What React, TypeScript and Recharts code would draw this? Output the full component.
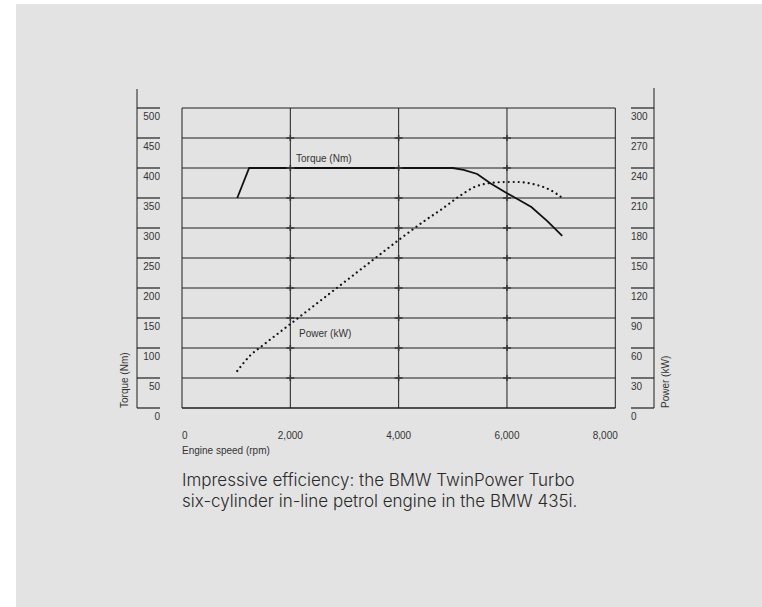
import React from "react";
import { ComposedChart, Line, XAxis, YAxis, CartesianGrid, Scatter } from "recharts";

// axis ticks
const rpmTicks = [0, 2000, 4000, 6000, 8000];
const torqueTicks = [0, 50, 100, 150, 200, 250, 300, 350, 400, 450, 500];
const powerTicks = [0, 30, 60, 90, 120, 150, 180, 210, 240, 270, 300];

// torque curve (Nm)
const torqueRpm = [1020, 1240, 5000, 5200, 5450, 5700, 6000, 6200, 6450, 6750, 7020];
const torqueNm = [350, 400, 400, 397, 390, 374, 358, 348, 335, 311, 287];

// power curve (kW)
const powerRpm = [1020, 1250, 1500, 2000, 2500, 3000, 3500, 4000, 4500, 4800, 5100, 5400, 5700, 6000, 6200, 6550, 6800, 7050];
const powerKw = [37, 52, 63, 84, 105, 126, 147, 168, 188, 199, 211, 221, 225, 226, 226, 223, 218, 209];

// little "+" marks on the inner grid lines
const crossRpm = [2000, 4000, 6000];
const crossNm = [50, 100, 150, 200, 250, 300, 350, 400, 450];

const INK = "#1e1e1e";
const TEXT = "#333333";
const FONT = "'Liberation Sans', Arial, sans-serif";

const torqueData = torqueRpm.map((rpm, i) => ({ rpm, nm: torqueNm[i] }));
const powerData = powerRpm.map((rpm, i) => ({ rpm, kw: powerKw[i] }));
const crossData = crossRpm.flatMap((rpm) => crossNm.map((nm) => ({ rpm, nm })));

function LeftTick(props: any) {
  const { y, payload } = props;
  return (
    <g>
      {payload.value === 500 && <line x1={137} x2={137} y1={y - 19} y2={y + 300} stroke={INK} strokeWidth={1} />}
      <line x1={137} x2={160} y1={y} y2={y} stroke={INK} strokeWidth={1.2} />
      <text x={160} y={y + 11.5} textAnchor="end" fontSize={10} fontFamily={FONT} fill={TEXT}>
        {payload.value}
      </text>
    </g>
  );
}

function RightTick(props: any) {
  const { y, payload } = props;
  return (
    <g>
      {payload.value === 300 && <line x1={654} x2={654} y1={y - 20} y2={y + 300} stroke={INK} strokeWidth={1} />}
      <line x1={631} x2={654} y1={y} y2={y} stroke={INK} strokeWidth={1.2} />
      <text x={631} y={y + 11.5} textAnchor="start" fontSize={10} fontFamily={FONT} fill={TEXT}>
        {payload.value}
      </text>
    </g>
  );
}

function BottomTick(props: any) {
  const { x, payload } = props;
  const v = payload.value;
  const anchor = v === 0 ? "start" : v === 8000 ? "end" : "middle";
  const dx = v === 8000 ? 2.5 : 0;
  return (
    <text x={x + dx} y={438.5} textAnchor={anchor} fontSize={10} fontFamily={FONT} fill={TEXT}>
      {v.toLocaleString("en-US")}
    </text>
  );
}

function Cross(props: any) {
  const { cx, cy } = props;
  return (
    <g stroke="#3a3a3a" strokeWidth={1.6}>
      <line x1={cx - 4} x2={cx + 4} y1={cy} y2={cy} />
      <line x1={cx} x2={cx} y1={cy - 3} y2={cy + 3} />
    </g>
  );
}

const label: React.CSSProperties = {
  position: "absolute",
  fontFamily: FONT,
  fontSize: 10,
  lineHeight: "12px",
  color: TEXT,
  whiteSpace: "nowrap",
};

export default function App() {
  return (
    <div style={{ position: "absolute", left: 0, top: 0, width: 762, height: 607, background: "#fff", overflow: "hidden" }}>
      <div style={{ position: "absolute", left: 16, top: 4, width: 746, height: 603, background: "#e3e3e3" }} />
      <div style={{ position: "absolute", left: 0, top: 0 }}>
        <ComposedChart width={762} height={607} margin={{ top: 108, right: 107.7, bottom: 150, left: 137 }}>
          <CartesianGrid xAxisId="rpm" yAxisId="torque" stroke={INK} strokeWidth={1} fill="none" />
          {/* spacer axis: pushes the visible rpm axis below the frame */}
          <XAxis
            xAxisId="spacer"
            type="number"
            domain={[0, 8000]}
            height={19}
            tick={false}
            axisLine={false}
            tickLine={false}
          />
          <XAxis
            xAxisId="rpm"
            type="number"
            dataKey="rpm"
            domain={[0, 8000]}
            ticks={rpmTicks}
            height={30}
            axisLine={{ stroke: INK, strokeWidth: 1 }}
            tickLine={false}
            tick={<BottomTick />}
            interval={0}
          />
          <YAxis
            yAxisId="torque"
            dataKey="nm"
            domain={[0, 500]}
            ticks={torqueTicks}
            width={45}
            axisLine={false}
            tickLine={false}
            tick={<LeftTick />}
            interval={0}
          />
          <YAxis
            yAxisId="power"
            orientation="right"
            dataKey="kw"
            domain={[0, 300]}
            ticks={powerTicks}
            width={39}
            axisLine={false}
            tickLine={false}
            tick={<RightTick />}
            interval={0}
          />
          <Scatter
            xAxisId="rpm"
            yAxisId="torque"
            data={crossData}
            shape={<Cross />}
            isAnimationActive={false}
          />
          <Line
            xAxisId="rpm"
            yAxisId="torque"
            data={torqueData}
            dataKey="nm"
            type="linear"
            stroke="#111"
            strokeWidth={1.8}
            dot={false}
            activeDot={false}
            isAnimationActive={false}
          />
          <Line
            xAxisId="rpm"
            yAxisId="power"
            data={powerData}
            dataKey="kw"
            type="monotone"
            stroke="#111"
            strokeWidth={2.2}
            strokeDasharray="0.01 5"
            strokeLinecap="round"
            dot={false}
            activeDot={false}
            isAnimationActive={false}
          />
        </ComposedChart>
      </div>

      <div style={{ ...label, left: 296, top: 153 }}>Torque (Nm)</div>
      <div style={{ ...label, left: 299, top: 328 }}>Power (kW)</div>

      <div style={{ ...label, left: 119, top: 408, transformOrigin: "0 0", transform: "rotate(-90deg)" }}>Torque (Nm)</div>
      <div style={{ ...label, left: 660, top: 408, transformOrigin: "0 0", transform: "rotate(-90deg)" }}>Power (kW)</div>

      <div style={{ ...label, left: 182, top: 445 }}>Engine speed (rpm)</div>

      <div
        style={{
          position: "absolute",
          left: 182,
          top: 469.5,
          fontFamily: "Inter, 'Open Sans', sans-serif",
          fontWeight: 300,
          fontSize: 17,
          lineHeight: "21px",
          color: "#2a2a2a",
          whiteSpace: "nowrap",
        }}
      >
        Impressive efficiency: the BMW TwinPower Turbo
        <br />
        six-cylinder in-line petrol engine in the BMW 435i.
      </div>
    </div>
  );
}
